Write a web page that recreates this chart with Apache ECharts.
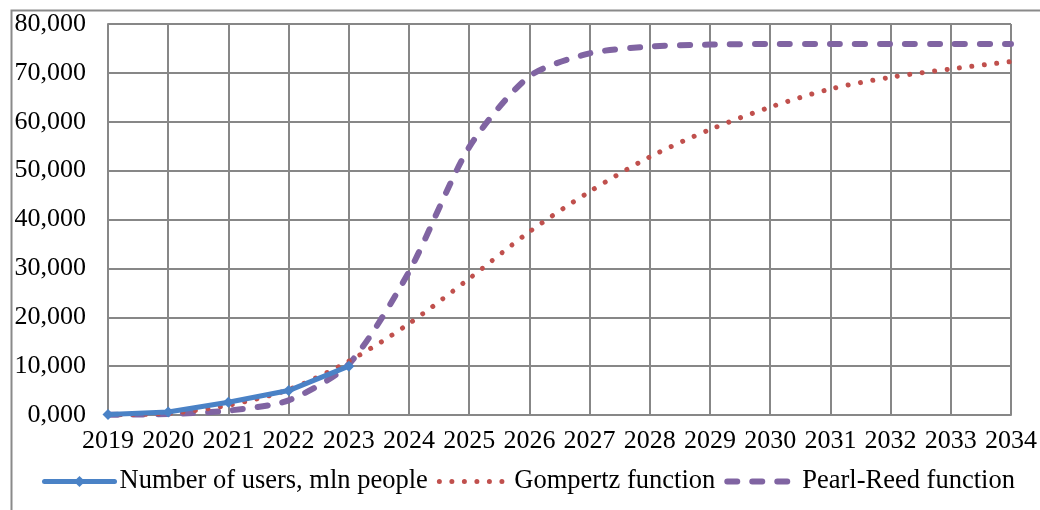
<!DOCTYPE html>
<html>
<head>
<meta charset="utf-8">
<script src="https://cdn.jsdelivr.net/npm/echarts@6/dist/echarts.min.js"></script>
<style>
html,body{margin:0;padding:0;background:#fff;}
#chart{width:1040px;height:510px;}
</style>
</head>
<body>
<div id="chart"></div>
<script>
var years = ['2019','2020','2021','2022','2023','2024','2025','2026','2027','2028','2029','2030','2031','2032','2033','2034'];
var users = [0.1, 0.6, 2.6, 5.0, 10.0];
var gompertz = [0.05, 0.35, 2.0, 5.2, 11.0, 18.7, 27.9, 37.5, 45.7, 52.8, 58.4, 63.0, 66.7, 69.1, 70.8, 72.3];
var pearlReed = [0.05, 0.2, 0.9, 3.0, 10.4, 29.3, 54.8, 69.3, 74.0, 75.4, 75.8, 75.9, 75.9, 75.9, 75.9, 75.9];
var yTicks = {min: 0, max: 80, interval: 10};

var chart = echarts.init(document.getElementById('chart'), null, {renderer: 'canvas'});
var font = '"Liberation Serif", "Times New Roman", serif';
var gridColor = '#878787';
var blue = '#4A82C6', red = '#C0504D', purple = '#8064A2';
var hiddenSym = {color: 'rgba(0,0,0,0)', opacity: 0, borderWidth: 0};
chart.setOption({
  animation: false,
  backgroundColor: '#fff',
  graphic: [{
    type: 'rect', left: 9, top: 8, z: -1,
    shape: {width: 1200, height: 700},
    style: {fill: 'none', stroke: '#8a8a8a', lineWidth: 2}
  }],
  grid: {left: 108, right: 29, top: 24, bottom: 95, containLabel: false},
  xAxis: {
    type: 'category',
    data: years,
    boundaryGap: false,
    axisLine: {lineStyle: {color: gridColor, width: 2}},
    axisTick: {show: false},
    axisLabel: {color: '#000', fontFamily: font, fontSize: 26, margin: 13, interval: 0},
    splitLine: {show: true, lineStyle: {color: gridColor, width: 2}}
  },
  yAxis: {
    type: 'value',
    min: yTicks.min, max: yTicks.max, interval: yTicks.interval,
    axisLine: {show: true, lineStyle: {color: gridColor, width: 2}},
    axisTick: {show: false},
    axisLabel: {color: '#000', fontFamily: font, fontSize: 26, margin: 22,
      formatter: function (v) { return v.toFixed(3).replace('.', ','); }},
    splitLine: {show: true, lineStyle: {color: gridColor, width: 2}}
  },
  legend: {
    bottom: 10, left: 37,
    itemWidth: 70, itemHeight: 14, itemGap: 9,
    textStyle: {color: '#000', fontFamily: font, fontSize: 26.5},
    data: [
      {name: 'Number of users, mln people', lineStyle: {width: 5}},
      {name: 'Gompertz function', itemStyle: hiddenSym, lineStyle: {width: 5}},
      {name: 'Pearl-Reed function', itemStyle: hiddenSym, lineStyle: {width: 6}}
    ]
  },
  series: [
    {
      name: 'Pearl-Reed function', type: 'line', data: pearlReed,
      symbol: 'circle', showSymbol: false, smooth: 0.25, z: 2,
      lineStyle: {color: purple, width: 6, type: [10, 15], cap: 'round'},
      itemStyle: {color: purple}
    },
    {
      name: 'Gompertz function', type: 'line', data: gompertz,
      symbol: 'circle', showSymbol: false, smooth: 0.3, z: 3,
      lineStyle: {color: red, width: 5, type: [0.01, 12.5], cap: 'round'},
      itemStyle: {color: red}
    },
    {
      name: 'Number of users, mln people', type: 'line', data: users,
      symbol: 'diamond', symbolSize: 11, showAllSymbol: true, z: 4,
      lineStyle: {color: blue, width: 5, cap: 'round'},
      itemStyle: {color: blue}
    }
  ]
});
</script>
</body>
</html>
